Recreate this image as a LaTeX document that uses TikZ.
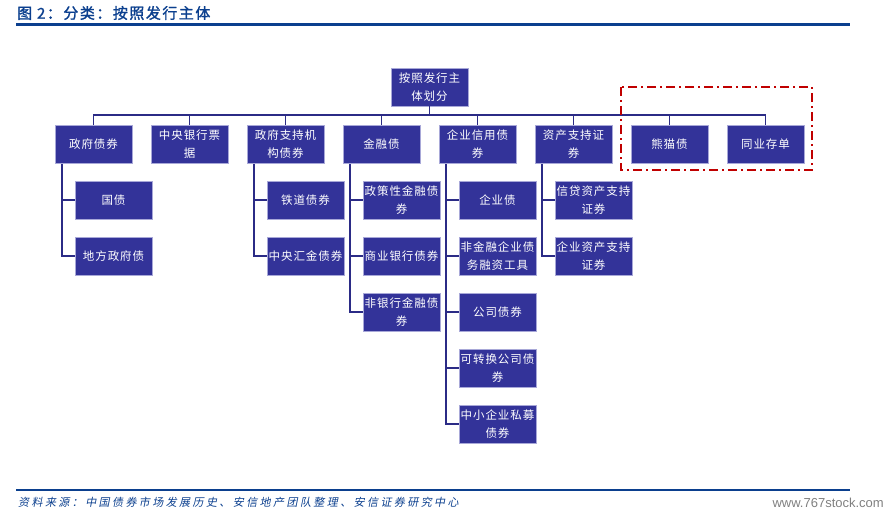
\documentclass[tikz,border=0pt]{standalone}
\usepackage{fontspec}
\setmainfont{Noto Sans CJK SC}
\newfontfamily\boxfont{Noto Sans CJK SC}[LetterSpace=8]
\newfontfamily\titlefont{Noto Sans CJK SC}[FakeBold=1.5,LetterSpace=10]
\newfontfamily\notefont{Noto Sans CJK SC}[FakeSlant=0.2,LetterSpace=22]
\newfontfamily\wmfont{Liberation Sans}
\usetikzlibrary{positioning}

\definecolor{rulecol}{HTML}{0B3F8E}
\definecolor{boxfill}{HTML}{333399}
\definecolor{boxline}{HTML}{A8A8D8}
\definecolor{linkcol}{HTML}{2B2B86}
\definecolor{dashred}{HTML}{C00000}

\tikzset{
	box/.style={draw=boxline, line width=0.8pt, fill=boxfill, text=white,
		minimum width=77pt, minimum height=38pt, inner sep=0pt, align=center,
		font=\boxfont\fontsize{11.5}{18}\selectfont},
	link/.style={draw=linkcol, line width=1.8pt},
}

\begin{document}
\begin{tikzpicture}[x=1pt, y=-1pt]
	\useasboundingbox (0,0) rectangle (896,516);

	% title and rules
	\node[anchor=west, text=rulecol, font=\titlefont\fontsize{15}{16}\selectfont, inner sep=0pt] (title) at (17,13) {图 2：分类：按照发行主体};
	\draw[rulecol, line width=2.4pt] (16,24.5) -- (850,24.5);
	\draw[rulecol, line width=2.4pt] (16,490) -- (850,490);

	% root
	\node[box] (root) at (429.5,87) {按照发行主\\体划分};

	% first level
	\node[box] (gov) at (93.5,144) {政府债券};
	\node[box] (cb) at (189.5,144) {中央银行票\\据};
	\node[box] (agency) at (285.5,144) {政府支持机\\构债券};
	\node[box] (fin) at (381.5,144) {金融债};
	\node[box] (corp) at (477.5,144) {企业信用债\\券};
	\node[box] (abs) at (573.5,144) {资产支持证\\券};
	\node[box] (panda) at (669.5,144) {熊猫债};
	\node[box] (ncd) at (765.5,144) {同业存单};

	% second level
	\node[box] (gov1) at (113.5,200) {国债};
	\node[box] (gov2) at (113.5,256) {地方政府债};

	\node[box] (agency1) at (305.5,200) {铁道债券};
	\node[box] (agency2) at (305.5,256) {中央汇金债券};

	\node[box] (fin1) at (401.5,200) {政策性金融债\\券};
	\node[box] (fin2) at (401.5,256) {商业银行债券};
	\node[box] (fin3) at (401.5,312) {非银行金融债\\券};

	\node[box] (corp1) at (497.5,200) {企业债};
	\node[box] (corp2) at (497.5,256) {非金融企业债\\务融资工具};
	\node[box] (corp3) at (497.5,312) {公司债券};
	\node[box] (corp4) at (497.5,368) {可转换公司债\\券};
	\node[box] (corp5) at (497.5,424) {中小企业私募\\债券};

	\node[box] (abs1) at (593.5,200) {信贷资产支持\\证券};
	\node[box] (abs2) at (593.5,256) {企业资产支持\\证券};

	% root to first level
	\foreach \n in {gov,cb,agency,fin,corp,abs,panda,ncd}
		\draw[link] (root.south) -- ++(0,9) -| (\n.north);

	% first to second level
	\draw[link] ([xshift=7pt,yshift=-1pt]gov.south west) |- (gov1.west);
	\draw[link] ([xshift=7pt,yshift=-1pt]gov.south west) |- (gov2.west);
	\draw[link] ([xshift=7pt,yshift=-1pt]agency.south west) |- (agency1.west);
	\draw[link] ([xshift=7pt,yshift=-1pt]agency.south west) |- (agency2.west);
	\draw[link] ([xshift=7pt,yshift=-1pt]fin.south west) |- (fin1.west);
	\draw[link] ([xshift=7pt,yshift=-1pt]fin.south west) |- (fin2.west);
	\draw[link] ([xshift=7pt,yshift=-1pt]fin.south west) |- (fin3.west);
	\draw[link] ([xshift=7pt,yshift=-1pt]corp.south west) |- (corp1.west);
	\draw[link] ([xshift=7pt,yshift=-1pt]corp.south west) |- (corp2.west);
	\draw[link] ([xshift=7pt,yshift=-1pt]corp.south west) |- (corp3.west);
	\draw[link] ([xshift=7pt,yshift=-1pt]corp.south west) |- (corp4.west);
	\draw[link] ([xshift=7pt,yshift=-1pt]corp.south west) |- (corp5.west);
	\draw[link] ([xshift=7pt,yshift=-1pt]abs.south west) |- (abs1.west);
	\draw[link] ([xshift=7pt,yshift=-1pt]abs.south west) |- (abs2.west);

	% new types
	\draw[dashred, line width=2.2pt, dash pattern=on 9pt off 4pt on 2pt off 4pt] (621,87) rectangle (812,170);

	% source
	\node[anchor=west, text=rulecol, font=\notefont\fontsize{11}{12}\selectfont, inner sep=0pt] (source) at (18,502) {资料来源：中国债券市场发展历史、安信地产团队整理、安信证券研究中心};
	\node[anchor=east, text=gray, font=\wmfont\fontsize{13}{14}\selectfont, inner sep=0pt] (mark) at (884,503) {www.767stock.com};
\end{tikzpicture}
\end{document}
